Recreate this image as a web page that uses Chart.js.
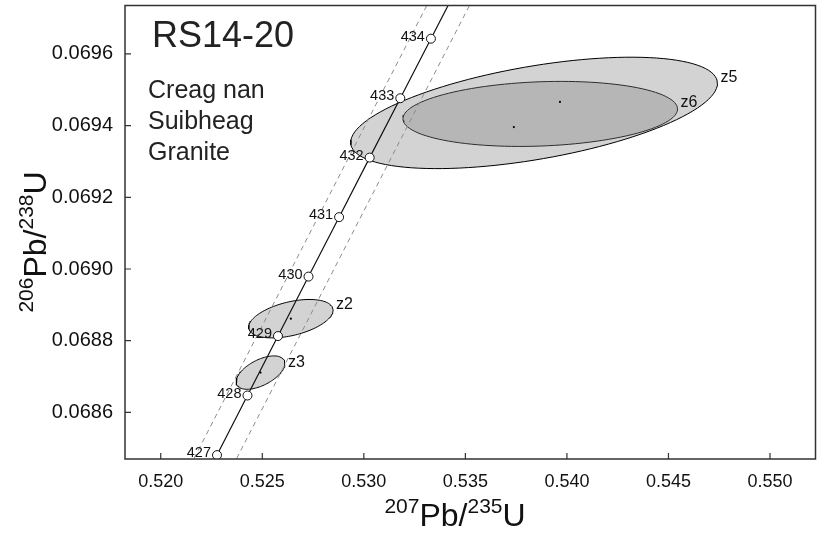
<!DOCTYPE html>
<html><head><meta charset="utf-8">
<script src="https://cdn.jsdelivr.net/npm/chart.js@4.4.0/dist/chart.umd.min.js"></script>
<style>html,body{margin:0;padding:0;background:#fff}#wrap{width:821px;height:533px}</style>
</head><body><div id="wrap"><canvas id="c" width="821" height="533"></canvas></div>
<script>
// Concordia: ages and ratios of the age markers
const markerAges = [427, 428, 429, 430, 431, 432, 433, 434];
const markerX = [0.522770, 0.524271, 0.525773, 0.527276, 0.528781, 0.530287, 0.531795, 0.533304];
const markerY = [0.0684809, 0.0686471, 0.0688129, 0.0689788, 0.0691446, 0.0693107, 0.0694763, 0.0696424];
// concordia line incl. points beyond the frame (426 and 435 Ma)
const curveX = [0.521271, 0.522770, 0.524271, 0.525773, 0.527276, 0.528781, 0.530287, 0.531795, 0.533304, 0.534815];
const curveY = [0.0683152, 0.0684809, 0.0686471, 0.0688129, 0.0689788, 0.0691446, 0.0693107, 0.0694763, 0.0696424, 0.0698082];
// decay-constant uncertainty envelope (dashed)
const envLowX = [0.520221, 0.533765];
const envHighX = [0.522321, 0.535865];
const envY = [0.0683152, 0.0698082];
// analyses: error ellipses
const grains = ['z5', 'z6', 'z2', 'z3'];
const ellX = [0.538382, 0.538686, 0.526407, 0.524912];
const ellSX = [0.009029, 0.006760, 0.002078, 0.001201];
const ellY = [0.0694354, 0.0694326, 0.0688614, 0.068711];
const ellSY = [0.0001554, 0.0000907, 0.0000536, 0.0000466];
const ellRho = [0.53, 0.15, 0.44, 0.55];
const dotX = [0.539657, 0.537387, 0.526407, 0.524912];
const dotY = [0.069466, 0.069396, 0.0688614, 0.068711];
// axes
const xMin = 0.51824, xMax = 0.55224, xStep = 0.005;
const yMin = 0.06847, yMax = 0.069735, yStep = 0.0002;
const sampleName = 'RS14-20';
const noteLines = ['Creag nan', 'Suibheag', 'Granite'];

const FONT = '"Liberation Sans", Arial, Helvetica, sans-serif';

function ellipsePts(i) {
  const pts = [];
  const n = 120, r = ellRho[i], q = Math.sqrt(1 - r * r);
  for (let k = 0; k <= n; k++) {
    const t = 2 * Math.PI * k / n;
    pts.push({x: ellX[i] + ellSX[i] * Math.cos(t), y: ellY[i] + ellSY[i] * (r * Math.cos(t) + q * Math.sin(t))});
  }
  return pts;
}

const datasets = [];
grains.forEach((g, i) => {
  datasets.push({label: g, data: ellipsePts(i), showLine: true, fill: 'shape',
    backgroundColor: 'rgba(128,128,128,0.35)', borderColor: '#000', borderWidth: 1,
    pointRadius: 0, tension: 0, order: 10 + i});
});
datasets.push({label: 'envLow', data: envY.map((y, i) => ({x: envLowX[i], y})), showLine: true,
  borderColor: '#8c8c8c', borderDash: [5, 4], borderWidth: 1, pointRadius: 0, order: 6});
datasets.push({label: 'envHigh', data: envY.map((y, i) => ({x: envHighX[i], y})), showLine: true,
  borderColor: '#8c8c8c', borderDash: [5, 4], borderWidth: 1, pointRadius: 0, order: 6});
datasets.push({label: 'concordia', data: curveY.map((y, i) => ({x: curveX[i], y})), showLine: true,
  borderColor: '#111', borderWidth: 1.2, pointRadius: 0, order: 3});
datasets.push({label: 'dots', data: dotY.map((y, i) => ({x: dotX[i], y})), showLine: false,
  pointRadius: 1.1, pointBackgroundColor: '#000', pointBorderWidth: 0, order: 2});
datasets.push({label: 'ages', data: markerY.map((y, i) => ({x: markerX[i], y})), showLine: false,
  pointRadius: 4.5, pointBackgroundColor: '#fff', pointBorderColor: '#111', pointBorderWidth: 1, order: 1});

function supText(ctx, parts, cx, cy) {
  const big = '32px ' + FONT, small = '21px ' + FONT;
  let w = 0;
  parts.forEach(p => { ctx.font = p[1] ? small : big; w += ctx.measureText(p[0]).width; });
  let x = cx - w / 2;
  ctx.textAlign = 'left'; ctx.textBaseline = 'alphabetic';
  parts.forEach(p => {
    ctx.font = p[1] ? small : big;
    ctx.fillText(p[0], x, p[1] ? cy - 13 : cy);
    x += ctx.measureText(p[0]).width;
  });
}

const deco = {
  id: 'deco',
  afterDatasetsDraw(chart) {
    const ctx = chart.ctx, a = chart.chartArea, xs = chart.scales.x, ys = chart.scales.y;
    ctx.save();
    // ages
    ctx.fillStyle = '#111'; ctx.font = '14.5px ' + FONT; ctx.textAlign = 'right'; ctx.textBaseline = 'middle';
    markerAges.forEach((t, i) => {
      ctx.fillText(String(t), xs.getPixelForValue(markerX[i]) - 6, ys.getPixelForValue(markerY[i]) - 2);
    });
    // grain labels at the right extreme of each ellipse
    ctx.font = '16px ' + FONT; ctx.textAlign = 'left';
    grains.forEach((g, i) => {
      const px = xs.getPixelForValue(ellX[i] + ellSX[i]);
      const py = ys.getPixelForValue(ellY[i] + ellSY[i] * ellRho[i]);
      ctx.fillText(g, px + 3, py - (i === 3 ? 1 : 6));
    });
    // frame
    ctx.strokeStyle = '#333'; ctx.lineWidth = 1.5;
    ctx.strokeRect(a.left, a.top, a.right - a.left, a.bottom - a.top);
    // inward ticks
    ctx.lineWidth = 1.2;
    ctx.beginPath();
    xs.ticks.forEach(t => { const p = xs.getPixelForValue(t.value); ctx.moveTo(p, a.bottom); ctx.lineTo(p, a.bottom - 6); });
    ys.ticks.forEach(t => { const p = ys.getPixelForValue(t.value); ctx.moveTo(a.left, p); ctx.lineTo(a.left + 6, p); });
    ctx.stroke();
    // texts
    ctx.fillStyle = '#222'; ctx.textAlign = 'left'; ctx.textBaseline = 'alphabetic';
    ctx.font = '36px ' + FONT;
    ctx.fillText(sampleName, a.left + 27, 47);
    ctx.font = '25px ' + FONT;
    noteLines.forEach((s, i) => ctx.fillText(s, a.left + 23, 98 + i * 31));
    // axis titles
    ctx.fillStyle = '#111';
    supText(ctx, [['207', true], ['Pb/', false], ['235', true], ['U', false]], 455, 526);
    ctx.save();
    ctx.translate(46, 242);
    ctx.rotate(-Math.PI / 2);
    supText(ctx, [['206', true], ['Pb/', false], ['238', true], ['U', false]], 0, 0);
    ctx.restore();
    ctx.restore();
  }
};

new Chart(document.getElementById('c'), {
  type: 'scatter',
  data: {datasets},
  options: {
    responsive: false, animation: false, devicePixelRatio: 1,
    layout: {padding: {top: 5, right: 2, left: 0, bottom: 0}},
    plugins: {legend: {display: false}, tooltip: {enabled: false}},
    scales: {
      x: {type: 'linear', min: xMin, max: xMax,
        grid: {display: false}, border: {display: false},
        ticks: {stepSize: xStep, includeBounds: false, padding: 4, color: '#111',
          font: {family: FONT, size: 18}, callback: v => Number(v).toFixed(3)},
        afterFit: s => { s.height = 74; s.paddingLeft = 0; s.paddingRight = 0; }},
      y: {type: 'linear', min: yMin, max: yMax,
        grid: {display: false}, border: {display: false},
        ticks: {stepSize: yStep, includeBounds: false, padding: 4, color: '#111',
          font: {family: FONT, size: 20}, callback: v => Number(v).toFixed(4)},
        afterFit: s => { s.width = 125; s.paddingTop = 0; s.paddingBottom = 0; }}
    }
  },
  plugins: [deco]
});
</script></body></html>
